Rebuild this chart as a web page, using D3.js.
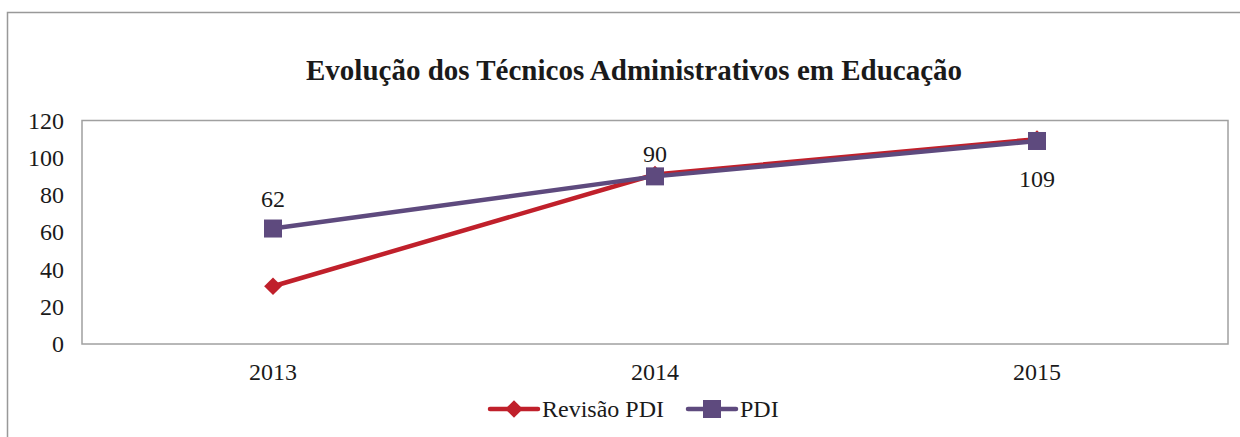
<!DOCTYPE html>
<html>
<head>
<meta charset="utf-8">
<script src="https://cdn.jsdelivr.net/npm/d3@7.9.0/dist/d3.min.js"></script>
<style>
  body { margin: 0; background: #fff; }
  svg { display: block; font-family: "Liberation Serif", "Times New Roman", serif; }
</style>
</head>
<body>
<div id="chart"></div>
<script>
// Chart data
const years = ["2013", "2014", "2015"];
const revisaoValues = [31, 91, 110];
const pdiValues = [62, 90, 109];
const yTicks = [0, 20, 40, 60, 80, 100, 120];
const seriesNames = ["Revisão PDI", "PDI"];

const width = 1240;
const height = 437;
const plot = { left: 82, right: 1228, top: 120.5, bottom: 344 };

const red = "#c0202b";
const purple = "#5e4a7e";

const svg = d3.select("#chart")
  .append("svg")
  .attr("width", width)
  .attr("height", height);

// outer chart frame (only top and left edges are visible)
svg.append("path")
  .attr("d", `M7.5,${height} V12.5 H${width}`)
  .attr("fill", "none")
  .attr("stroke", "#999")
  .attr("stroke-width", 1.5);

// title
svg.append("text")
  .attr("x", 634)
  .attr("y", 80)
  .attr("text-anchor", "middle")
  .attr("font-weight", "bold")
  .attr("font-size", 29)
  .attr("fill", "#1a1a1a")
  .text("Evolução dos Técnicos Administrativos em Educação");

// scales
const x = d3.scaleBand()
  .domain(years)
  .range([plot.left, plot.right]);

const y = d3.scaleLinear()
  .domain([0, 120])
  .range([plot.bottom, plot.top]);

// plot frame
svg.append("rect")
  .attr("x", plot.left)
  .attr("y", plot.top)
  .attr("width", plot.right - plot.left)
  .attr("height", plot.bottom - plot.top)
  .attr("fill", "none")
  .attr("stroke", "#a0a0a0")
  .attr("stroke-width", 1.5);

// axes, no tick marks
const yAxis = svg.append("g")
  .attr("transform", `translate(${plot.left},0)`)
  .call(d3.axisLeft(y).tickValues(yTicks).tickSize(0).tickPadding(18));
const xAxis = svg.append("g")
  .attr("transform", `translate(0,${plot.bottom})`)
  .call(d3.axisBottom(x).tickSize(0).tickPadding(19));

[yAxis, xAxis].forEach(g => {
  g.select(".domain").remove();
  g.selectAll("text")
    .attr("font-family", "Liberation Serif, Times New Roman, serif")
    .attr("font-size", 24)
    .attr("fill", "#1a1a1a");
});

const cx = d => x(d) + x.bandwidth() / 2;

const line = d3.line()
  .x((d, i) => cx(years[i]))
  .y(d => y(d));

// Revisão PDI
svg.append("path")
  .datum(revisaoValues)
  .attr("d", line)
  .attr("fill", "none")
  .attr("stroke", red)
  .attr("stroke-width", 4.5)
  .attr("stroke-linejoin", "round");

svg.append("g").selectAll("path")
  .data(revisaoValues)
  .join("path")
  .attr("transform", (d, i) => `translate(${cx(years[i])},${y(d)})`)
  .attr("d", d3.symbol(d3.symbolDiamond2, 200))
  .attr("fill", red);

// PDI
svg.append("path")
  .datum(pdiValues)
  .attr("d", line)
  .attr("fill", "none")
  .attr("stroke", purple)
  .attr("stroke-width", 4.5)
  .attr("stroke-linejoin", "round");

svg.append("g").selectAll("rect")
  .data(pdiValues)
  .join("rect")
  .attr("x", (d, i) => cx(years[i]) - 9)
  .attr("y", d => y(d) - 9)
  .attr("width", 18)
  .attr("height", 18)
  .attr("fill", purple);

// data labels for PDI
const labelOffset = [-22, -14, 46];
svg.append("g").selectAll("text")
  .data(pdiValues)
  .join("text")
  .attr("x", (d, i) => cx(years[i]))
  .attr("y", (d, i) => y(d) + labelOffset[i])
  .attr("text-anchor", "middle")
  .attr("font-size", 24)
  .attr("fill", "#1a1a1a")
  .text(d => d);

// legend
const legend = svg.append("g").attr("transform", "translate(0,409)");
const legendItems = [
  { name: seriesNames[0], color: red, x0: 490, shape: "diamond" },
  { name: seriesNames[1], color: purple, x0: 688, shape: "square" }
];
legendItems.forEach(item => {
  legend.append("line")
    .attr("x1", item.x0).attr("x2", item.x0 + 48)
    .attr("stroke", item.color)
    .attr("stroke-width", 4.5)
    .attr("stroke-linecap", "round");
  if (item.shape === "diamond") {
    legend.append("path")
      .attr("transform", `translate(${item.x0 + 24},0)`)
      .attr("d", d3.symbol(d3.symbolDiamond2, 200))
      .attr("fill", item.color);
  } else {
    legend.append("rect")
      .attr("x", item.x0 + 15).attr("y", -9)
      .attr("width", 18).attr("height", 18)
      .attr("fill", item.color);
  }
  legend.append("text")
    .attr("x", item.x0 + 52)
    .attr("y", 8)
    .attr("font-size", 24)
    .attr("fill", "#1a1a1a")
    .text(item.name);
});
</script>
</body>
</html>
